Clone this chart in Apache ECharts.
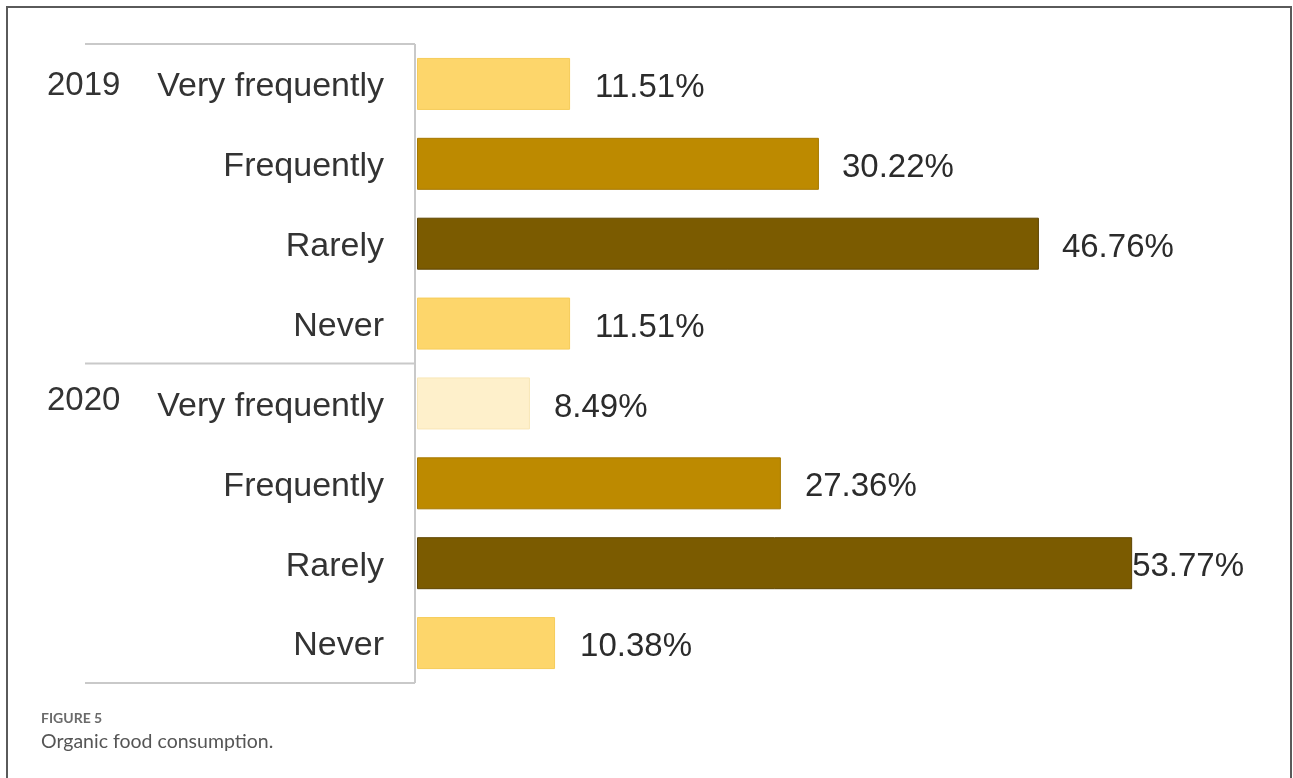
<!DOCTYPE html>
<html>
<head>
<meta charset="utf-8">
<script src="https://cdn.jsdelivr.net/npm/echarts@6/dist/echarts.min.js"></script>
<style>
html,body{margin:0;padding:0;background:#fff;}
#main{width:1293px;height:778px;}
</style>
</head>
<body>
<div id="main"></div>
<script>
// ---- data ----
var categories = ['Very frequently', 'Frequently', 'Rarely', 'Never', 'Very frequently ', 'Frequently ', 'Rarely ', 'Never '];
var groups = ['2019', '2020'];
var groupStart = [0, 4];
var values = [11.51, 30.22, 46.76, 11.51, 8.49, 27.36, 53.77, 10.38];
var labels = ['11.51%', '30.22%', '46.76%', '11.51%', '8.49%', '27.36%', '53.77%', '10.38%'];
var figureTag = 'FIGURE 5';
var figureCaption = 'Organic food consumption.';

// ---- styles ----
var barColors = ['#FDD66B', '#BD8A00', '#7B5B00', '#FDD66B', '#FEF0CB', '#BD8A00', '#7B5B00', '#FDD66B'];
var borderColors = ['#F6CC5A', '#A67800', '#5E4400', '#F6CC5A', '#F8E6B6', '#A67800', '#5E4400', '#F6CC5A'];
var labelDist = [25, 23, 23, 25, 24, 24, 0, 25];
var FONT = "Arial, 'Liberation Sans', sans-serif";

var chart = echarts.init(document.getElementById('main'));

var data = values.map(function (v, i) {
  return {
    value: v,
    itemStyle: { color: barColors[i], borderColor: borderColors[i], borderWidth: 1 },
    label: { distance: labelDist[i] }
  };
});

var GRID_TOP = 44, GRID_H = 639, GRID_LEFT = 417;

chart.setOption({
  animation: false,
  backgroundColor: '#fff',
  grid: { left: GRID_LEFT, top: GRID_TOP, height: GRID_H, width: 798 },
  xAxis: { type: 'value', min: 0, max: 60, show: false },
  yAxis: {
    type: 'category',
    data: categories,
    inverse: true,
    axisLine: { show: false },
    axisTick: { show: false },
    axisLabel: {
      margin: 33,
      formatter: function (v) { return '{a|' + v.trim() + '}'; },
      rich: {
        a: { fontFamily: FONT, fontSize: 34, color: '#333333', padding: [6, 0, 0, 0] }
      }
    }
  },
  series: [{
    type: 'bar',
    data: data,
    barWidth: 52,
    label: {
      show: true,
      position: 'right',
      fontFamily: FONT,
      fontSize: 33,
      color: '#2b2b2b',
      offset: [0, 4],
      formatter: function (p) { return labels[p.dataIndex]; }
    }
  }]
});

function buildGraphics() {
  var rowH = GRID_H / categories.length;
  var els = [];
  // outer frame
  els.push({ type: 'polyline', shape: { points: [[7, 800], [7, 7], [1291, 7], [1291, 800]] },
    style: { stroke: '#5a5a5a', lineWidth: 2, fill: null }, silent: true });
  // bracket lines
  var lc = '#c9c9c9';
  [GRID_TOP, GRID_TOP + 4 * rowH, GRID_TOP + GRID_H].forEach(function (y) {
    els.push({ type: 'line', shape: { x1: 85, y1: y, x2: 415, y2: y },
      style: { stroke: lc, lineWidth: 2 }, silent: true });
  });
  els.push({ type: 'line', shape: { x1: 415, y1: GRID_TOP, x2: 415, y2: GRID_TOP + GRID_H },
    style: { stroke: lc, lineWidth: 2 }, silent: true });
  // group labels
  groups.forEach(function (g, gi) {
    var y = chart.convertToPixel({ yAxisIndex: 0 }, categories[groupStart[gi]]);
    els.push({ type: 'text', x: 47, y: y + 2 - (gi === 1 ? 5 : 0),
      style: { text: g, font: "33px Arial, 'Liberation Sans', sans-serif", fill: '#333333',
        verticalAlign: 'middle' }, silent: true });
  });
  // caption
  els.push({ type: 'text', x: 41, y: 711,
    style: { text: figureTag, font: "bold 14px Lato, 'Open Sans', sans-serif", fill: '#6a6a6a' }, silent: true });
  els.push({ type: 'text', x: 41, y: 732,
    style: { text: figureCaption, font: "19.5px Lato, 'Open Sans', sans-serif", fill: '#555555' }, silent: true });
  chart.setOption({ graphic: { elements: els } });
}
buildGraphics();
</script>
</body>
</html>
